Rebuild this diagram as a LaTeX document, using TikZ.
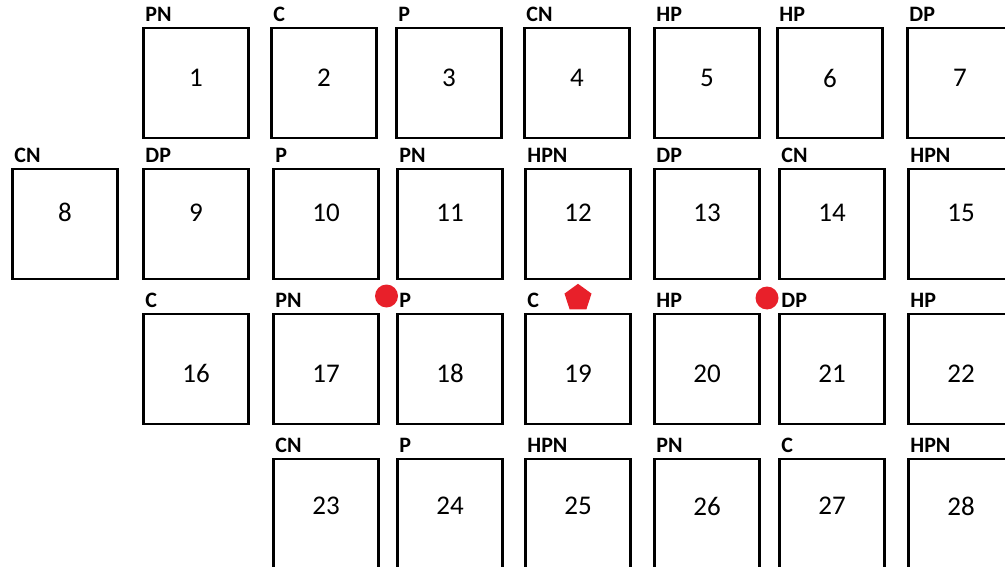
\documentclass[tikz,border=0pt]{standalone}
\usepackage{fontspec}
\setmainfont{Carlito}
\usetikzlibrary{shapes.geometric}
\definecolor{markRed}{HTML}{E8202A}

\begin{document}
\begin{tikzpicture}[
  x=1pt, y=-1pt,
  room/.style={
    rectangle,
    draw=black,
    line width=2.6pt,
    minimum width=105pt,
    minimum height=110pt,
    inner sep=0pt,
    text depth=#1,
    font=\fontsize{27}{27}\selectfont
  },
  room/.default=0pt,
  low room/.style={room, text height=26pt},
  tag/.style={
    font=\fontsize{22}{22}\selectfont\bfseries,
    inner sep=0pt,
    anchor=south west,
    xshift=3pt,
    yshift=5pt
  },
  dot/.style={circle, fill=markRed, minimum size=23pt, inner sep=0pt},
  penta/.style={
    regular polygon,
    regular polygon sides=5,
    fill=markRed,
    minimum size=28.4pt,
    inner sep=0pt
  }
]
  \path[use as bounding box, clip] (0,0) rectangle (1005,567);

  % Row 1
  \node[room=10pt, label={[tag]north west:PN}] (r1) at (196,83) {1};
  \node[room=10pt, label={[tag]north west:C}] (r2) at (324,83) {2};
  \node[room=10pt, label={[tag]north west:P}] (r3) at (449,83) {3};
  \node[room=10pt, label={[tag]north west:CN}] (r4) at (577,83) {4};
  \node[room=10pt, label={[tag]north west:HP}] (r5) at (707,83) {5};
  \node[room=10pt, label={[tag]north west:HP}] (r6) at (830,83) {6};
  \node[room=10pt, label={[tag]north west:DP}] (r7) at (960,83) {7};

  % Row 2
  \node[room=23pt, label={[tag]north west:CN}] (r8) at (65,224) {8};
  \node[room=23pt, label={[tag]north west:DP}] (r9) at (196,224) {9};
  \node[room=23pt, label={[tag]north west:P}] (r10) at (326,224) {10};
  \node[room=23pt, label={[tag]north west:PN}] (r11) at (450,224) {11};
  \node[room=23pt, label={[tag]north west:HPN}] (r12) at (578,224) {12};
  \node[room=23pt, label={[tag]north west:DP}] (r13) at (707,224) {13};
  \node[room=23pt, label={[tag]north west:CN}] (r14) at (832,224) {14};
  \node[room=23pt, label={[tag]north west:HPN}] (r15) at (961,224) {15};

  % Row 3
  \node[low room, label={[tag]north west:C}] (r16) at (196,369) {16};
  \node[low room, label={[tag]north west:PN}] (r17) at (326,369) {17};
  \node[low room, label={[tag]north west:P}] (r18) at (450,369) {18};
  \node[low room, label={[tag]north west:C}] (r19) at (578,369) {19};
  \node[low room, label={[tag]north west:HP}] (r20) at (707,369) {20};
  \node[low room, label={[tag]north west:DP}] (r21) at (832,369) {21};
  \node[low room, label={[tag]north west:HP}] (r22) at (961,369) {22};

  % Row 4
  \node[room=16pt, label={[tag]north west:CN}] (r23) at (326,514) {23};
  \node[room=16pt, label={[tag]north west:P}] (r24) at (450,514) {24};
  \node[room=16pt, label={[tag]north west:HPN}] (r25) at (578,514) {25};
  \node[room=16pt, label={[tag]north west:PN}] (r26) at (707,514) {26};
  \node[room=16pt, label={[tag]north west:C}] (r27) at (832,514) {27};
  \node[room=16pt, label={[tag]north west:HPN}] (r28) at (961,514) {28};

  % Red markers
  \node[dot] (m1) at (386.5,296) {};
  \node[penta] (m2) at (578,298) {};
  \node[dot] (m3) at (767,298) {};
\end{tikzpicture}
\end{document}
